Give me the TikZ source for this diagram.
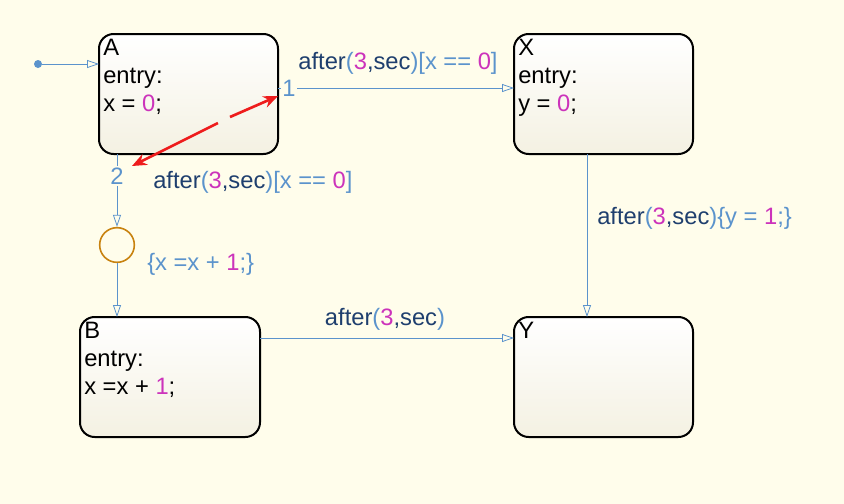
\documentclass[tikz,border=0pt]{standalone}
\usepackage{fontspec}
\setmainfont{Liberation Sans}
\usetikzlibrary{arrows.meta}
\definecolor{bg}{HTML}{FFFDEB}
\definecolor{lb}{HTML}{5B93CC}
\definecolor{db}{HTML}{1F3F6E}
\definecolor{mg}{HTML}{CC33BB}
\definecolor{jn}{HTML}{C8820F}
\definecolor{sb}{HTML}{F4F1E2}
\definecolor{rd}{HTML}{EE1C1C}
\newcommand{\mN}[1]{\textcolor{mg}{#1}}
\newcommand{\aft}{\textcolor{db}{after}\textcolor{lb}{(}\mN{3}\textcolor{db}{,sec}\textcolor{lb}{)}}
\begin{document}
\begin{tikzpicture}[x=0.75pt,y=-0.75pt,
  st/.style={draw=black,line width=1.5pt,rounded corners=11pt,top color=white,bottom color=sb},
  tr/.style={draw=lb,line width=0.6pt,-{Triangle[open,length=9pt,width=6pt]}},
  ln/.style={draw=lb,line width=0.6pt},
  txt/.style={font=\fontsize{17.8}{18.8}\selectfont,inner sep=0pt},
  stt/.style={font=\fontsize{17.8}{21}\selectfont,inner sep=0pt,align=left,anchor=north west,text=black}]
\fill[bg] (0,0) rectangle (844,504);
\useasboundingbox (0,0) rectangle (844,504);
\path[st] (99,34) rectangle (278,154);
\path[st] (514,34) rectangle (693,154);
\path[st] (80,317) rectangle (260,437);
\path[st] (514,317) rectangle (693,437);
\node[stt] (At) at (103,39) {A\\entry:\\x = \mN{0};};
\node[stt] (Xt) at (518,39) {X\\entry:\\y = \mN{0};};
\node[stt] (Bt) at (84,322) {B\\entry:\\x =x + \mN{1};};
\node[stt] (Yt) at (518,322) {Y};
\coordinate (A0) at (99,64);
\coordinate (A1) at (278,88);
\coordinate (X1) at (514,88);
\coordinate (A2) at (117,154);
\coordinate (B2) at (117,317);
\coordinate (Xb) at (587,154);
\coordinate (Yt2) at (587,317);
\coordinate (Br) at (260,338);
\coordinate (Yl) at (514,338);
\node[circle,fill=lb,inner sep=0pt,minimum size=6pt] (d) at (38,64) {};
\draw[tr] (d) -- (A0);
\node[txt,text=lb,fill=bg,inner sep=1pt] (n1) at (289,88) {1};
\draw[ln] (A1) -- (n1.west);
\draw[tr] (n1.east) -- (X1);
\node[txt,anchor=south] (l1) at (398,75) {\aft\textcolor{lb}{[x == }\mN{0}\textcolor{lb}{]}};
\node[txt,text=lb,fill=bg,inner sep=1pt] (n2) at (117,176) {2};
\node[circle,draw=jn,line width=1.2pt,minimum size=26pt,inner sep=0pt] (J) at (117,245) {};
\draw[ln] (A2) -- (n2.north);
\draw[tr] (n2.south) -- (J.north);
\draw[tr] (J.south) -- (B2);
\node[txt,anchor=west] (l2) at (153,182) {\aft\textcolor{lb}{[x == }\mN{0}\textcolor{lb}{]}};
\node[txt,anchor=west,text=lb] (l3) at (147,264) {\{x =x + \mN{1};\}};
\draw[tr] (Xb) -- (Yt2);
\node[txt,anchor=west] (l4) at (597,218) {\aft\textcolor{lb}{\{y = }\mN{1}\textcolor{lb}{;\}}};
\draw[tr] (Br) -- (Yl);
\node[txt] (l5) at (385,319) {\aft};
\coordinate (r1) at (230,117);
\coordinate (r2) at (218,123);
\coordinate (rA) at (278,96);
\coordinate (rB) at (132,166);
\draw[rd,line width=2pt,-{Stealth[length=11pt,width=9pt]}] (r1) -- (rA);
\draw[rd,line width=2pt,-{Stealth[length=11pt,width=9pt]}] (r2) -- (rB);
\end{tikzpicture}
\end{document}
